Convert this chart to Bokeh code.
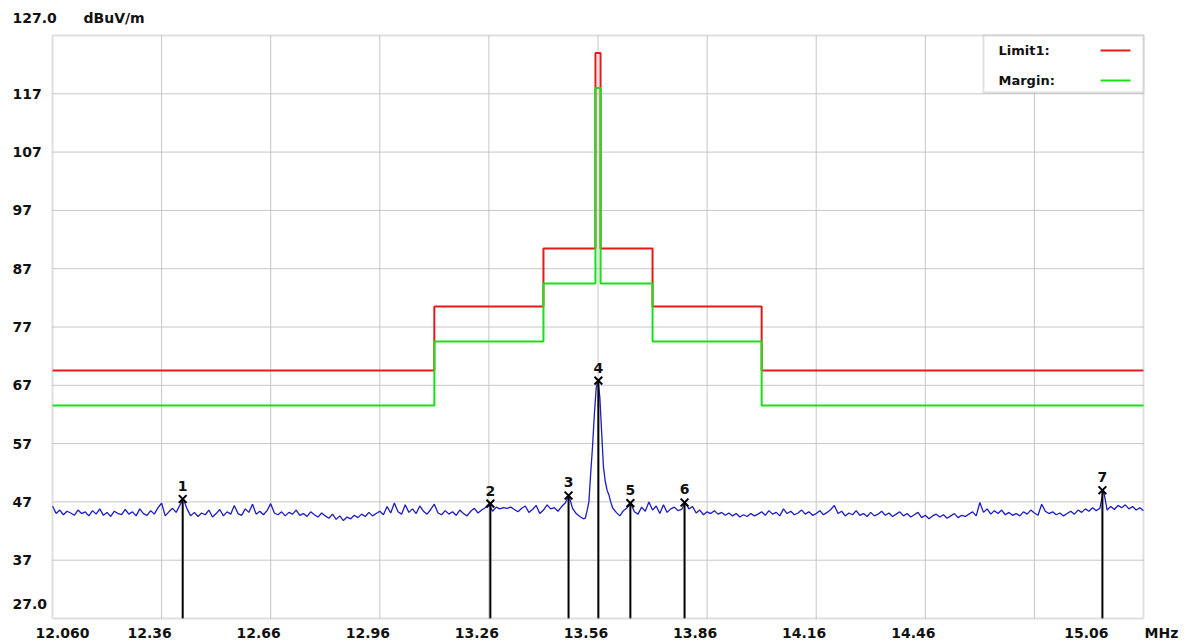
from bokeh.plotting import figure
from bokeh.models import Range1d, Label, BoxAnnotation, ColumnDataSource
from bokeh.core.properties import value
from bokeh.embed import file_html
from bokeh.resources import INLINE

# ---------------- data ----------------
freq_start_mhz = 12.06
freq_stop_mhz = 15.06
level_bottom = 27.0
level_top = 127.0

x_grid_mhz = [12.36, 12.66, 12.96, 13.26, 13.56, 13.86, 14.16, 14.46, 14.76]
x_label_mhz = [12.06, 12.36, 12.66, 12.96, 13.26, 13.56, 13.86, 14.16, 14.46, 15.06]
x_label_text = ["12.060", "12.36", "12.66", "12.96", "13.26", "13.56", "13.86", "14.16", "14.46", "15.06"]
y_grid_dbuv = [37, 47, 57, 67, 77, 87, 97, 107, 117]
y_label_text = ["37", "47", "57", "67", "77", "87", "97", "107", "117"]

# Limit1 and Margin (step edges in MHz, level per band in dBuV/m)
limit_edges_mhz = [12.06, 13.11, 13.41, 13.553, 13.567, 13.71, 14.01, 15.06]
limit_dbuv = [69.54, 80.51, 90.47, 124.0, 90.47, 80.51, 69.54]
margin_dbuv = [63.54, 74.51, 84.47, 118.0, 84.47, 74.51, 63.54]

# measured trace, 0.01 MHz steps 12.06 .. 13.52
trace_low_start = 12.06
trace_step = 0.01
trace_low_dbuv = [
    46.3, 45.0, 45.6, 44.8, 45.4, 45.1, 44.7, 45.6, 45.0, 45.3,
    44.6, 45.5, 44.9, 45.8, 44.7, 45.2, 44.5, 45.4, 45.0, 44.8,
    45.7, 44.9, 45.3, 44.6, 45.8, 45.0, 44.7, 45.5, 44.9, 46.0,
    46.8, 44.6, 45.3, 45.9, 45.2, 46.4, 47.5, 45.8, 44.6, 45.2,
    44.5, 45.1, 44.8, 45.6, 44.4, 45.0, 45.7, 44.6, 45.3, 44.9,
    46.4, 45.0, 44.7, 45.8, 45.2, 46.6, 44.9, 45.4, 44.8, 45.5,
    46.7, 45.1, 44.8, 45.3, 44.6, 45.2, 44.9, 45.6, 44.7, 45.0,
    44.5, 45.3, 44.8, 44.4, 45.1, 44.6, 44.2, 44.9, 44.0, 44.6,
    43.8, 44.4, 44.1, 44.7, 44.3, 44.9, 44.5, 45.2, 44.6, 45.0,
    45.4, 44.8, 46.2, 45.1, 46.8, 45.3, 44.9, 46.5, 45.2, 45.8,
    45.0, 46.3, 45.4, 44.9, 45.7, 46.6, 45.1, 44.8, 45.5, 44.9,
    45.3, 44.7, 45.6, 45.0, 44.6, 45.4, 45.9, 45.1, 45.6, 46.0,
    46.7, 45.4, 46.1, 45.8, 46.0, 45.9, 46.1, 45.7, 45.3, 45.9,
    46.3, 45.2, 45.7, 46.4, 45.0, 45.6, 46.5, 45.8, 46.0, 45.4,
    46.2, 46.8, 48.1, 45.9, 45.0, 44.5, 44.1,
]
# carrier region
peak_mhz = [13.525, 13.53, 13.535, 13.54, 13.545, 13.55, 13.555, 13.56,
            13.565, 13.57, 13.575, 13.58, 13.585, 13.59, 13.595, 13.60]
peak_dbuv = [44.2, 45.5, 47.0, 52.0, 56.5, 62.0, 66.5, 67.8,
             65.0, 59.0, 53.0, 50.5, 49.0, 48.2, 47.0, 46.0]
# 0.01 MHz steps 13.61 .. 15.06
trace_high_start = 13.61
trace_high_dbuv = [
    45.2, 44.6, 45.5, 46.0, 46.8, 45.3, 44.9, 46.1, 45.4, 47.0,
    45.6, 46.3, 45.0, 46.5, 45.2, 45.8, 46.1, 45.5, 45.7, 46.9,
    45.8, 46.2, 45.1, 45.6, 44.8, 45.3, 45.0, 45.5, 44.9, 45.2,
    44.7, 45.1, 44.6, 45.0, 44.4, 44.8, 44.5, 45.0, 44.6, 44.9,
    45.3, 44.7, 45.5, 44.9, 45.2, 44.6, 45.8, 45.0, 45.4, 44.8,
    45.1, 45.6, 44.9, 45.3, 44.7, 45.0, 45.5, 44.8, 45.2, 45.7,
    46.4, 45.0, 45.4, 44.6, 45.1, 44.8, 45.5, 44.7, 45.0, 44.5,
    45.2, 44.6, 44.9, 45.4, 44.7, 45.1, 44.5, 44.9, 45.3, 44.6,
    45.0, 44.4, 44.8, 45.2, 44.3, 44.7, 44.1, 44.6, 44.9, 44.4,
    44.8, 44.2, 44.6, 45.0, 44.3, 44.7, 44.5, 44.9, 45.3, 44.6,
    46.9, 45.2, 45.8, 44.9, 45.5, 45.0, 45.6, 44.8, 45.2, 44.7,
    45.0, 44.6, 45.3, 44.9, 45.6, 45.1, 44.7, 46.6, 45.4, 45.0,
    45.3, 44.8, 45.1, 44.6, 45.0, 45.4, 44.9, 45.6, 45.2, 45.8,
    45.4, 46.0, 45.5, 45.9, 49.0, 45.6, 46.2, 45.7, 46.4, 46.0,
    46.5, 45.8, 46.2, 45.6, 46.0, 45.5,
]

marker_labels = ["1", "2", "3", "4", "5", "6", "7"]
marker_mhz = [12.418, 13.264, 13.479, 13.561, 13.649, 13.798, 14.947]
marker_dbuv = [47.5, 46.7, 48.1, 67.8, 46.8, 46.9, 49.0]

legend_labels = ["Limit1:", "Margin:"]

# ---------------- layout ----------------
FW, FH = 1184, 642
PLOT_L, PLOT_T, PLOT_W, PLOT_H = 52, 35, 1091, 583   # inner plot box, in canvas px
FONT = value("DejaVu Sans")
RED, GREEN, BLUE = "#e31b1b", "#19e019", "#1c1cc4"
TXT = "#111111"
GRID = "#c6c6c6"
BORDER = "#959595"

mhz_per_px = (freq_stop_mhz - freq_start_mhz) / PLOT_W
db_per_px = (level_top - level_bottom) / PLOT_H


def dx(px):
    return mhz_per_px * px


def dy(px):
    return db_per_px * px


x_range = Range1d(freq_start_mhz - dx(PLOT_L), freq_start_mhz + dx(FW - PLOT_L))
y_range = Range1d(level_bottom - dy(FH - PLOT_T - PLOT_H), level_top + dy(PLOT_T))

p = figure(width=FW, height=FH, output_backend="svg", toolbar_location=None,
           x_axis_type=None, y_axis_type=None, x_range=x_range, y_range=y_range,
           min_border=0, background_fill_color="white", border_fill_color="white")
p.outline_line_color = None
p.xgrid.visible = False
p.ygrid.visible = False

# grid lines inside the plot box
n_x, n_y = len(x_grid_mhz), len(y_grid_dbuv)
p.segment(x0=x_grid_mhz, y0=[level_bottom] * n_x, x1=x_grid_mhz, y1=[level_top] * n_x,
          line_color=GRID, line_width=1, level="underlay")
p.segment(x0=[freq_start_mhz] * n_y, y0=y_grid_dbuv, x1=[freq_stop_mhz] * n_y, y1=y_grid_dbuv,
          line_color=GRID, line_width=1, level="underlay")

# limit + margin
p.step(limit_edges_mhz, limit_dbuv + [limit_dbuv[-1]], mode="after",
       line_color=RED, line_width=2)
p.step(limit_edges_mhz, margin_dbuv + [margin_dbuv[-1]], mode="after",
       line_color=GREEN, line_width=2)

# trace
trace_x = [round(trace_low_start + i * trace_step, 3) for i in range(len(trace_low_dbuv))]
trace_x += peak_mhz
trace_x += [round(trace_high_start + i * trace_step, 3) for i in range(len(trace_high_dbuv))]
trace_y = trace_low_dbuv + peak_dbuv + trace_high_dbuv
p.line(trace_x, trace_y, line_color=BLUE, line_width=1.3)

# markers
msrc = ColumnDataSource(dict(x=marker_mhz, y=marker_dbuv, b=[level_bottom] * len(marker_mhz),
                             t=marker_labels))
p.segment(x0="x", y0="y", x1="x", y1="b", source=msrc, line_color="black", line_width=2)
p.scatter(x="x", y="y", source=msrc, marker="x", size=11, line_color="black", line_width=2)
p.text(x="x", y="y", text="t", source=msrc, text_align="center", text_baseline="bottom",
       y_offset=-8, text_font=FONT, text_font_style="bold", text_font_size="14px",
       text_color=TXT)

# plot box border
p.add_layout(BoxAnnotation(left=freq_start_mhz, right=freq_stop_mhz,
                           bottom=level_bottom, top=level_top,
                           fill_alpha=0, line_color=BORDER, line_width=2))


def add_label(x, y, text, xo=0, yo=0, align="left", size="14px"):
    p.add_layout(Label(x=x, y=y, x_offset=xo, y_offset=yo, text=text, text_align=align,
                       text_baseline="middle", text_font="DejaVu Sans", text_font_style="bold",
                       text_font_size=size, text_color=TXT))


# axis texts
for v, t in zip(y_grid_dbuv, y_label_text):
    add_label(freq_start_mhz, v, t, xo=-40)
add_label(freq_start_mhz, level_bottom, "27.0", xo=-40, yo=15)
add_label(freq_start_mhz, level_top, "127.0", xo=-40, yo=18)
add_label(freq_start_mhz, level_top, "dBuV/m", xo=31, yo=18)

for i, (v, t) in enumerate(zip(x_label_mhz, x_label_text)):
    if i == 0:
        align, off = "left", -17
    elif i == len(x_label_mhz) - 1:
        align, off = "right", -35
    else:
        align, off = "center", -12
    add_label(v, level_bottom, t, xo=off, yo=-14, align=align)
add_label(freq_stop_mhz, level_bottom, "MHz", xo=1, yo=-14)

# legend box (label left, line swatch right)
p.add_layout(BoxAnnotation(left=freq_stop_mhz - dx(160), right=freq_stop_mhz,
                           top=level_top, bottom=level_top - dy(57),
                           fill_color="white", fill_alpha=1.0,
                           line_color=BORDER, line_width=2))
legend_colors = [RED, GREEN]
for k, (lab, col) in enumerate(zip(legend_labels, legend_colors)):
    yy = level_top - dy(15 + 30 * k)
    add_label(freq_stop_mhz - dx(145), yy, lab, size="13px")
    r = p.segment(x0=[freq_stop_mhz - dx(43)], y0=[yy], x1=[freq_stop_mhz - dx(13)], y1=[yy],
                  line_color=col, line_width=2)
    r.level = "overlay"

open("out.html", "w").write(file_html(p, INLINE))
